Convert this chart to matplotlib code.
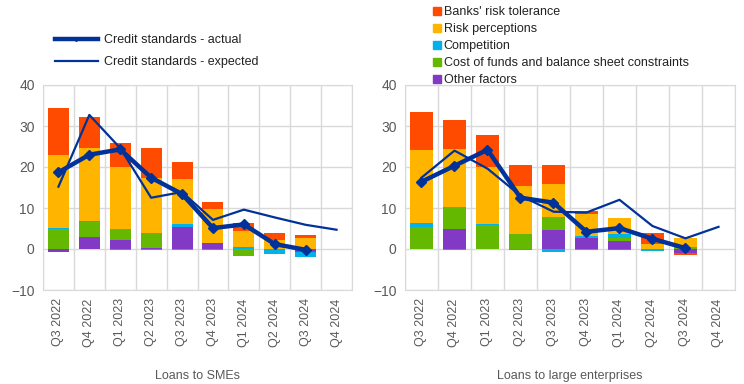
import matplotlib.pyplot as plt
import numpy as np
from matplotlib.lines import Line2D
from matplotlib.patches import Patch

plt.rcParams['font.family'] = ['Liberation Sans', 'DejaVu Sans']

quarters = ["Q3 2022", "Q4 2022", "Q1 2023", "Q2 2023", "Q3 2023",
            "Q4 2023", "Q1 2024", "Q2 2024", "Q3 2024", "Q4 2024"]

factor_names = ["Other factors", "Cost of funds and balance sheet constraints",
                "Competition", "Risk perceptions", "Banks' risk tolerance"]
factor_colors = ["#8139C6", "#65B800", "#00B1EA", "#FFB400", "#FF4B00"]

# loans to SMEs
sme_other = [-0.8, 3.0, 2.3, 0.2, 5.4, 1.5, 0.0, 0.0, -0.7, 0.0]
sme_cost = [4.9, 3.7, 2.7, 3.8, -0.3, 0.0, -1.7, 0.0, 0.0, 0.0]
sme_comp = [0.2, 0.2, -0.3, -0.3, 0.6, -0.3, 0.4, -1.2, -1.2, 0.0]
sme_risk = [17.8, 17.8, 14.9, 13.4, 11.1, 8.3, 4.0, 2.2, 2.6, 0.0]
sme_tol = [11.4, 7.5, 6.0, 7.3, 4.1, 1.7, 1.9, 1.6, 0.7, 0.0]
sme_actual = [18.7, 23.0, 24.3, 17.4, 13.4, 5.1, 6.0, 1.2, -0.2, np.nan]
sme_expected = [15.2, 32.7, 24.6, 12.5, 13.9, 7.1, 9.6, 7.7, 5.9, 4.7]

# loans to large enterprises
le_other = [0.0, 4.8, 0.0, 0.0, 4.6, 2.6, 1.9, 0.0, -0.9, 0.0]
le_cost = [5.4, 5.4, 5.9, 3.6, 3.2, -0.3, 0.7, 0.0, 0.6, 0.0]
le_comp = [1.0, -0.3, 0.2, -0.3, -0.7, 0.6, 1.0, -0.6, -0.15, 0.0]
le_risk = [17.8, 14.2, 13.9, 11.7, 8.1, 5.3, 3.9, 1.1, 2.0, 0.0]
le_tol = [9.3, 7.1, 7.7, 5.1, 4.6, 0.7, -0.3, 2.7, -0.4, 0.0]
le_actual = [16.4, 20.3, 24.2, 12.5, 11.3, 4.2, 5.1, 2.5, 0.2, np.nan]
le_expected = [17.4, 24.0, 19.6, 13.0, 9.1, 8.9, 12.0, 5.6, 2.6, 5.4]

line_col = "#003299"
grid_col = "#d9d9d9"
text_col = "#595959"


def panel(ax, factors, actual, expected, title):
    x = np.arange(len(quarters))
    pos = np.zeros(len(x))
    neg = np.zeros(len(x))
    for vals, col in zip(factors, factor_colors):
        v = np.array(vals)
        bottom = np.where(v >= 0, pos, neg)
        ax.bar(x, v, bottom=bottom, width=0.68, color=col, zorder=2)
        pos += np.where(v >= 0, v, 0)
        neg += np.where(v < 0, v, 0)
    ax.plot(x, expected, color=line_col, lw=1.6, zorder=3)
    ax.plot(x, actual, color=line_col, lw=3.2, marker='D', ms=5, zorder=4)

    ax.set_xlim(-0.5, len(x) - 0.5)
    ax.set_ylim(-10, 40)
    ax.set_yticks([-10, 0, 10, 20, 30, 40])
    ax.set_xticks(x)
    ax.set_xticklabels(quarters, rotation=90)
    ax.set_xticks(np.arange(-0.5, len(x)), minor=True)
    ax.grid(True, which='minor', axis='x', color=grid_col, lw=1, zorder=0)
    ax.grid(True, which='major', axis='y', color=grid_col, lw=1, zorder=0)
    ax.tick_params(which='both', length=0, labelsize=9, colors=text_col, pad=6)
    ax.tick_params(axis='y', labelsize=10)
    for s in ax.spines.values():
        s.set_color(grid_col)
    ax.set_xlabel(title, fontsize=9, color=text_col, labelpad=17)


fig = plt.figure(figsize=(7.44, 3.84), dpi=100)
ax1 = fig.add_axes([43 / 744, 94 / 384, 309 / 744, 205 / 384])
ax2 = fig.add_axes([405 / 744, 94 / 384, 330 / 744, 205 / 384])

panel(ax1, [sme_other, sme_cost, sme_comp, sme_risk, sme_tol],
      sme_actual, sme_expected, "Loans to SMEs")
panel(ax2, [le_other, le_cost, le_comp, le_risk, le_tol],
      le_actual, le_expected, "Loans to large enterprises")

line_handles = [Line2D([], [], color=line_col, lw=3.2, marker='D', ms=2),
                Line2D([], [], color=line_col, lw=1.6)]
fig.legend(line_handles, ["Credit standards - actual", "Credit standards - expected"],
           loc='upper left', bbox_to_anchor=(50 / 744, 1 - 29 / 384), frameon=False,
           fontsize=9, labelcolor='#222222', handlelength=3.4, handletextpad=0.5,
           labelspacing=0.8, borderaxespad=0)

bar_handles = [Patch(color=c) for c in factor_colors[::-1]]
fig.legend(bar_handles, factor_names[::-1], loc='upper left',
           bbox_to_anchor=(428 / 744, 1 - 1 / 384), frameon=False, fontsize=9,
           labelcolor='#222222', handlelength=0.6, handleheight=0.6,
           handletextpad=0.25, labelspacing=0.4, borderaxespad=0)

fig.savefig("out.png", dpi=100)
